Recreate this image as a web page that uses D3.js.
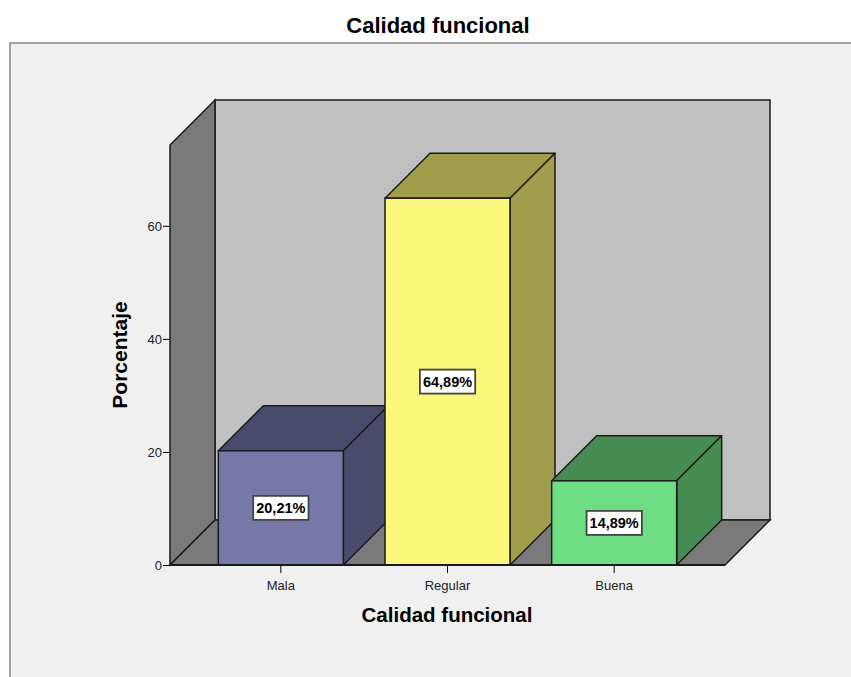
<!DOCTYPE html>
<html>
<head>
<meta charset="utf-8">
<script src="https://cdn.jsdelivr.net/npm/d3@7"></script>
<style>
  html, body { margin: 0; padding: 0; background: #ffffff; }
  svg { display: block; font-family: "Liberation Sans", Arial, sans-serif; }
</style>
</head>
<body>
<svg id="chart" width="851" height="677"></svg>
<script>
// Chart data
const categories = ["Mala", "Regular", "Buena"];
const values = [20.21, 64.89, 14.89];
const valueLabels = ["20,21%", "64,89%", "14,89%"];
const yTicks = [0, 20, 40, 60];
const frontColors = ["#7878a8", "#fbf77a", "#6ede84"];
const shadeColors = ["#4b4b6b", "#a09e4a", "#468c52"];

const svg = d3.select("#chart");
const W = 851, H = 677;
const FONT = "Liberation Sans, Arial, sans-serif";

// Outer panel
svg.append("rect").attr("x", 0).attr("y", 0).attr("width", W).attr("height", H).attr("fill", "#ffffff");
svg.append("rect").attr("x", 10).attr("y", 43).attr("width", W + 20).attr("height", H)
  .attr("fill", "#f0f0f0").attr("stroke", "#888888").attr("stroke-width", 1.5);

// Title
svg.append("text").attr("x", 438).attr("y", 33).attr("text-anchor", "middle")
  .attr("font-size", 22).attr("font-weight", "bold").attr("fill", "#000").text("Calidad funcional");

// Plot geometry: front plane and depth offset
const x0 = 170, x1 = 725;
const dx = 45, dy = -45;

const x = d3.scaleBand().domain(categories).range([x0, x1]).paddingInner(0.25).paddingOuter(0.29);
const y = d3.scaleLinear().domain([0, 74.3]).range([565, 145]);

const line = d3.line();
const stroke = "#1a1a1a";
const yBase = y(0), yTop = y.range()[1];

// Back wall
svg.append("path")
  .attr("d", line([[x0 + dx, yBase + dy], [x1 + dx, yBase + dy], [x1 + dx, yTop + dy], [x0 + dx, yTop + dy]]) + "Z")
  .attr("fill", "#c0c0c0").attr("stroke", stroke).attr("stroke-width", 1.5);
// Side wall (left)
svg.append("path")
  .attr("d", line([[x0, yBase], [x0 + dx, yBase + dy], [x0 + dx, yTop + dy], [x0, yTop]]) + "Z")
  .attr("fill", "#7a7a7a").attr("stroke", stroke).attr("stroke-width", 1.5);
// Floor
svg.append("path")
  .attr("d", line([[x0, yBase], [x1, yBase], [x1 + dx, yBase + dy], [x0 + dx, yBase + dy]]) + "Z")
  .attr("fill", "#7a7a7a").attr("stroke", stroke).attr("stroke-width", 1.5);

// Bars
const bw = x.bandwidth();
categories.forEach((c, i) => {
  const bx = x(c), by = y(values[i]);
  const g = svg.append("g");
  // top face
  g.append("path")
    .attr("d", line([[bx, by], [bx + bw, by], [bx + bw + dx, by + dy], [bx + dx, by + dy]]) + "Z")
    .attr("fill", shadeColors[i]).attr("stroke", stroke).attr("stroke-width", 1.5).attr("stroke-linejoin", "round");
  // right face
  g.append("path")
    .attr("d", line([[bx + bw, by], [bx + bw + dx, by + dy], [bx + bw + dx, yBase + dy], [bx + bw, yBase]]) + "Z")
    .attr("fill", shadeColors[i]).attr("stroke", stroke).attr("stroke-width", 1.5).attr("stroke-linejoin", "round");
  // front face
  g.append("rect").attr("x", bx).attr("y", by).attr("width", bw).attr("height", yBase - by)
    .attr("fill", frontColors[i]).attr("stroke", stroke).attr("stroke-width", 1.5);
});

// Front floor edge
svg.append("line").attr("x1", x0).attr("x2", x1).attr("y1", yBase).attr("y2", yBase)
  .attr("stroke", stroke).attr("stroke-width", 2);

// Value labels
categories.forEach((c, i) => {
  const cx = x(c) + bw / 2, cy = (y(values[i]) + yBase) / 2;
  const g = svg.append("g");
  const t = g.append("text").attr("x", cx).attr("y", cy + 5).attr("text-anchor", "middle")
    .attr("font-size", 14.5).attr("font-weight", "bold").attr("fill", "#000").text(valueLabels[i]);
  const bb = t.node().getBBox();
  g.insert("rect", "text").attr("x", bb.x - 3).attr("y", cy - 12).attr("width", bb.width + 6).attr("height", 24)
    .attr("fill", "#ffffff").attr("stroke", "#444").attr("stroke-width", 1.8);
});

// Y axis
const yAxis = d3.axisLeft(y).tickValues(yTicks).tickSize(7).tickPadding(1).tickFormat(d3.format("d"));
const ya = svg.append("g").attr("transform", `translate(${x0},0)`).call(yAxis);
ya.select(".domain").remove();
ya.selectAll(".tick line").attr("stroke", "#000");
ya.selectAll(".tick text").attr("font-size", 13).attr("fill", "#222").attr("font-family", FONT);

// X axis
const xAxis = d3.axisBottom(x).tickSize(8).tickPadding(7.5);
const xa = svg.append("g").attr("transform", `translate(0,${yBase})`).call(xAxis);
xa.select(".domain").remove();
xa.selectAll(".tick line").attr("stroke", "#000");
xa.selectAll(".tick text").attr("font-size", 13).attr("fill", "#222").attr("font-family", FONT);

// Axis titles
svg.append("text").attr("x", 447).attr("y", 622).attr("text-anchor", "middle")
  .attr("font-size", 20.5).attr("font-weight", "bold").attr("fill", "#000").text("Calidad funcional");
svg.append("text").attr("transform", "translate(127,355) rotate(-90)").attr("text-anchor", "middle")
  .attr("font-size", 21).attr("font-weight", "bold").attr("fill", "#000").text("Porcentaje");
</script>
</body>
</html>
